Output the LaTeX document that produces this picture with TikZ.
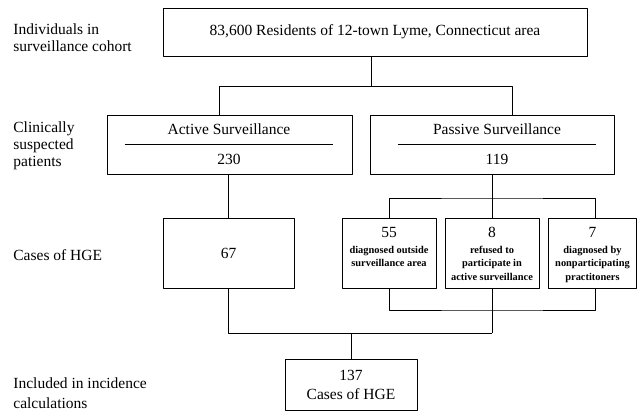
\documentclass[tikz,border=0pt]{standalone}
\usepackage{fontspec}
\setmainfont{Liberation Serif}
\begin{document}
\begin{tikzpicture}[x=1pt,y=-1pt,line width=0.8pt,line join=round,font=\fontsize{15.5}{17}\selectfont]
	\tikzset{
		box/.style={draw,inner sep=0pt},
		numtext/.style={inner sep=0pt,anchor=base},
		note/.style={inner sep=0pt,anchor=north,align=center,font=\bfseries\fontsize{10.4}{13.5}\selectfont},
		rowlabel/.style={inner sep=0pt,anchor=west,align=left}
	}
	\useasboundingbox (0,0) rectangle (637,411);
	% nhan ben trai
	\node[rowlabel] (lab1) at (13,38) {Individuals in\\surveillance cohort};
	\node[rowlabel] (lab2) at (13,146) {Clinically\\suspected\\patients};
	\node[rowlabel] (lab3) at (13,255) {Cases of HGE};
	\node[rowlabel] (lab4) at (13,393) {Included in incidence\\[3pt]calculations};
	% cac hop
	\node[box,minimum width=424pt,minimum height=48pt] (top) at (375,32) {83,600 Residents of 12-town Lyme, Connecticut area};
	\node[box,minimum width=245pt,minimum height=59pt] (active) at (229.5,144.5) {};
	\node[box,minimum width=244pt,minimum height=59pt] (passive) at (492,144.5) {};
	\node[numtext] (actname) at (229,135) {Active Surveillance};
	\node[numtext] (actnum) at (229,165) {230};
	\node[numtext] (pasname) at (497,135) {Passive Surveillance};
	\node[numtext] (pasnum) at (497,165) {119};
	\draw ([xshift=18pt]active.west) -- ([xshift=-19pt]active.east);
	\draw ([xshift=28pt]passive.west) -- ([xshift=-18pt]passive.east);
	\node[box,minimum width=131pt,minimum height=70pt] (c67) at (228.5,253) {67};
	\node[box,minimum width=94pt,minimum height=70pt] (c55) at (389,253) {};
	\node[box,minimum width=94pt,minimum height=70pt] (c8) at (492,253) {};
	\node[box,minimum width=88pt,minimum height=70pt] (c7) at (592.5,253) {};
	\node[numtext] (n55) at (389,238) {55};
	\node[note] (t55) at (389,245.5) {diagnosed outside\\surveillance area};
	\node[numtext] (n8) at (492,238) {8};
	\node[note] (t8) at (492,245.5) {refused to\\participate in\\active surveillance};
	\node[numtext] (n7) at (592.5,238) {7};
	\node[note] (t7) at (592.5,245.5) {diagnosed by\\nonparticipating\\practitoners};
	\node[box,minimum width=132pt,minimum height=51pt,align=center] (total) at (351,384.5) {137\\[2pt]Cases of HGE};
	% duong noi
	\path
	(371,86) coordinate (s1)
	(219,86) coordinate (a1)
	(512,86) coordinate (p1)
	(492,198) coordinate (s2)
	(492,310) coordinate (s3)
	(492,333) coordinate (s4)
	(351,333) coordinate (s5);
	\draw (top.south -| s1) -- (s1);
	\draw (active.north -| a1) -- (a1) -- (p1) -- (passive.north -| p1);
	\draw (active.south -| c67.north) -- (c67.north);
	\draw (passive.south) -- (s2);
	\draw (c55.north) |- (s2) -| ([xshift=2.5pt]c7.north);
	\draw (c8.north) -- (s2);
	\draw (c55.south) |- (s3) -| ([xshift=2.5pt]c7.south);
	\draw (c8.south) -- (s4);
	\draw (c67.south) |- (s4);
	\draw (s5) -- (total.north);
\end{tikzpicture}
\end{document}
